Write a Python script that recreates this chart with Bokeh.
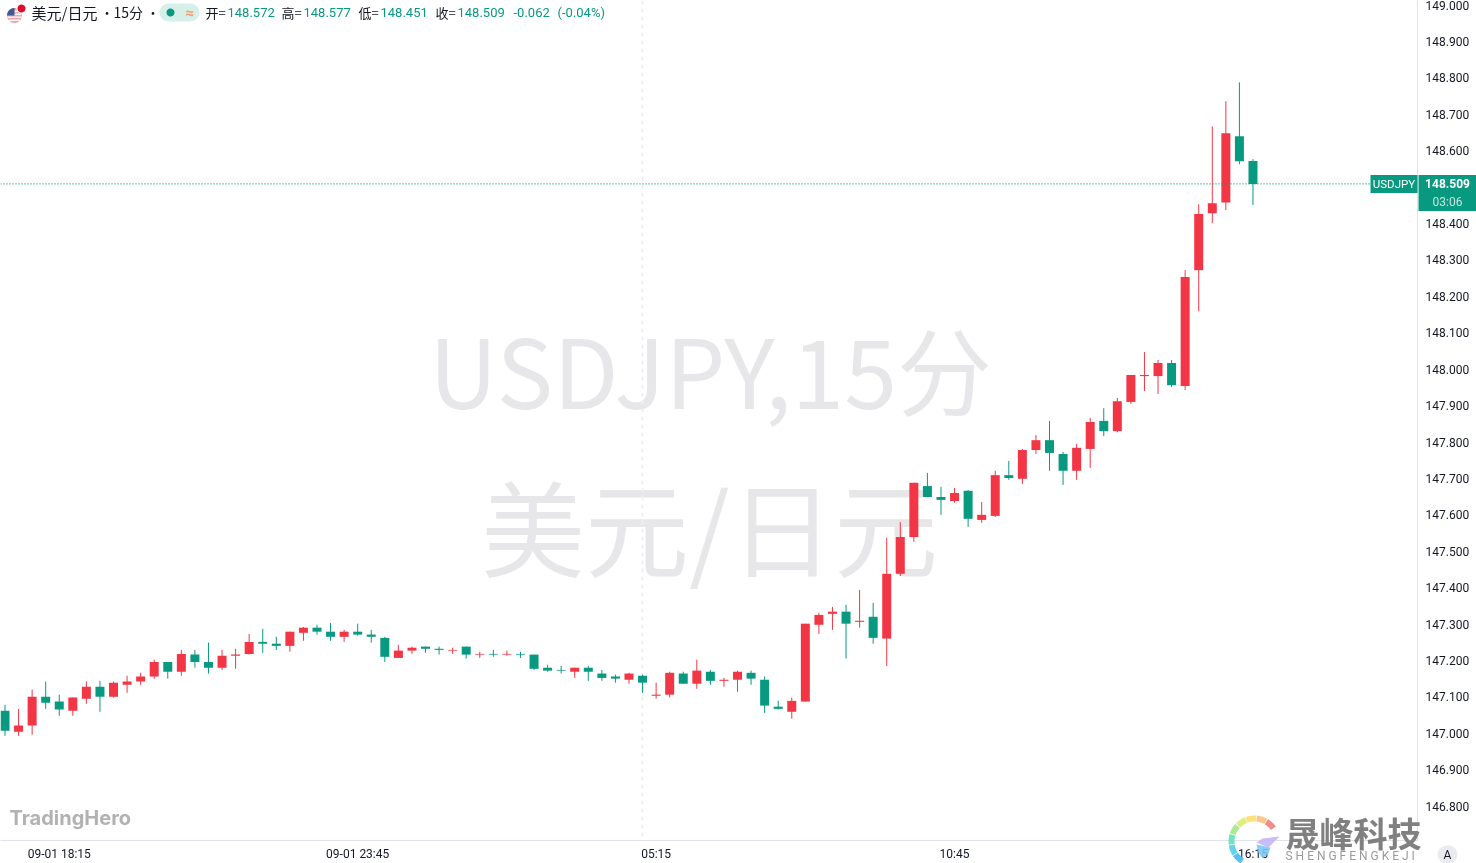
import numpy as np

from bokeh.core.properties import value
from bokeh.embed import file_html
from bokeh.models import (Column, ColumnDataSource, FixedTicker, Label,
                          LinearAxis, PrintfTickFormatter, Range1d, Span)
from bokeh.plotting import figure
from bokeh.resources import INLINE

# USDJPY 15 min
opens = [
    147.062, 147.004, 147.021, 147.100, 147.087, 147.062, 147.095, 147.128, 147.100, 147.133,
    147.142, 147.156, 147.196, 147.169, 147.216, 147.196, 147.180, 147.213, 147.218, 147.251,
    147.246, 147.240, 147.276, 147.290, 147.279, 147.265, 147.279, 147.271, 147.262, 147.207,
    147.227, 147.238, 147.232, 147.227, 147.238, 147.216, 147.218, 147.216, 147.218, 147.216,
    147.180, 147.174, 147.169, 147.180, 147.164, 147.156, 147.147, 147.158, 147.103, 147.106,
    147.164, 147.136, 147.169, 147.144, 147.147, 147.166, 147.147, 147.073, 147.059, 147.087,
    147.298, 147.328, 147.334, 147.306, 147.320, 147.260, 147.438, 147.539, 147.679, 147.649,
    147.638, 147.666, 147.586, 147.597, 147.709, 147.699, 147.778, 147.805, 147.767, 147.721,
    147.781, 147.858, 147.830, 147.910, 147.981, 147.981, 148.017, 147.954, 148.272, 148.428,
    148.458, 148.640, 148.572,
]
highs = [
    147.078, 147.067, 147.120, 147.142, 147.106, 147.098, 147.142, 147.144, 147.142, 147.158,
    147.166, 147.202, 147.196, 147.229, 147.229, 147.249, 147.229, 147.232, 147.273, 147.287,
    147.265, 147.279, 147.292, 147.298, 147.303, 147.284, 147.301, 147.284, 147.265, 147.243,
    147.238, 147.238, 147.238, 147.235, 147.238, 147.224, 147.229, 147.227, 147.224, 147.216,
    147.188, 147.185, 147.180, 147.185, 147.174, 147.161, 147.166, 147.161, 147.139, 147.169,
    147.169, 147.202, 147.174, 147.152, 147.172, 147.172, 147.156, 147.089, 147.098, 147.301,
    147.331, 147.347, 147.353, 147.394, 147.358, 147.537, 147.580, 147.688, 147.715, 147.677,
    147.674, 147.668, 147.635, 147.721, 147.748, 147.781, 147.819, 147.858, 147.773, 147.795,
    147.866, 147.893, 147.921, 147.984, 148.047, 148.025, 148.025, 148.272, 148.453, 148.667,
    148.736, 148.788, 148.577,
]
lows = [
    146.993, 146.993, 146.996, 147.067, 147.048, 147.048, 147.081, 147.059, 147.098, 147.111,
    147.133, 147.150, 147.150, 147.158, 147.180, 147.164, 147.174, 147.177, 147.216, 147.221,
    147.229, 147.224, 147.254, 147.271, 147.254, 147.251, 147.268, 147.249, 147.196, 147.207,
    147.218, 147.221, 147.216, 147.218, 147.205, 147.207, 147.210, 147.213, 147.207, 147.174,
    147.169, 147.164, 147.152, 147.144, 147.144, 147.139, 147.136, 147.111, 147.095, 147.098,
    147.136, 147.122, 147.133, 147.128, 147.114, 147.133, 147.056, 147.065, 147.040, 147.087,
    147.273, 147.284, 147.205, 147.290, 147.246, 147.185, 147.432, 147.526, 147.649, 147.600,
    147.633, 147.567, 147.578, 147.594, 147.696, 147.685, 147.767, 147.721, 147.682, 147.696,
    147.729, 147.816, 147.827, 147.904, 147.940, 147.932, 147.951, 147.943, 148.159, 148.401,
    148.437, 148.563, 148.451,
]
closes = [
    147.007, 147.021, 147.100, 147.084, 147.065, 147.098, 147.128, 147.100, 147.139, 147.142,
    147.156, 147.196, 147.169, 147.218, 147.196, 147.180, 147.213, 147.216, 147.251, 147.246,
    147.240, 147.279, 147.290, 147.279, 147.265, 147.279, 147.271, 147.265, 147.210, 147.227,
    147.235, 147.232, 147.229, 147.229, 147.216, 147.218, 147.216, 147.218, 147.216, 147.177,
    147.172, 147.172, 147.180, 147.169, 147.152, 147.150, 147.164, 147.139, 147.106, 147.166,
    147.136, 147.172, 147.144, 147.147, 147.169, 147.150, 147.076, 147.067, 147.089, 147.301,
    147.325, 147.334, 147.301, 147.309, 147.262, 147.438, 147.539, 147.688, 147.649, 147.641,
    147.660, 147.589, 147.600, 147.709, 147.701, 147.778, 147.805, 147.770, 147.721, 147.784,
    147.855, 147.830, 147.912, 147.984, 147.984, 148.017, 147.956, 148.253, 148.426, 148.456,
    148.648, 148.571, 148.509,
]

price_ticks = [146.8, 146.9, 147.0, 147.1, 147.2, 147.3, 147.4, 147.5, 147.6, 147.7, 147.8,
               147.9, 148.0, 148.1, 148.2, 148.3, 148.4, 148.6, 148.7, 148.8, 148.9, 149.0]
time_ticks = [4, 26, 48, 70, 92]
time_labels = ["09-01 18:15", "09-01 23:45", "05:15", "10:45", "16:15"]
marker_bar = 47

legend_parts = [
    (31, "美元/日元", "#131722", "15px"), (100, "•", "#131722", "13px"),
    (113, "15分", "#131722", "14px"), (146, "•", "#131722", "13px"),
    (205, "开=", "#131722", "13px"), (227, "148.572", "#089981", "13px"),
    (281, "高=", "#131722", "13px"), (303, "148.577", "#089981", "13px"),
    (358, "低=", "#131722", "13px"), (380, "148.451", "#089981", "13px"),
    (435, "收=", "#131722", "13px"), (457, "148.509", "#089981", "13px"),
    (513, "-0.062", "#089981", "13px"), (557, "(-0.04%)", "#089981", "13px"),
]

UP = "#F23645"
DOWN = "#089981"
TEXT = "#131722"
BORDER = "#e0e3eb"
SANS = "Roboto"
CJK = "Noto Sans CJK SC"
WIDTH = 1476
HEIGHT = 863
FRAME_W = 1417
FRAME_H = 841
BAR_PX = 13.565
FIRST_PX = 4.5
PRICE_PX = 364.5
PRICE_AT_0 = 149.0127
FULL_PAGE = {"position": "fixed", "left": "0", "top": "0"}

p = figure(
    width=WIDTH, height=HEIGHT,
    x_range=Range1d(-FIRST_PX / BAR_PX, (FRAME_W - FIRST_PX) / BAR_PX),
    y_range=Range1d(PRICE_AT_0 - FRAME_H / PRICE_PX, PRICE_AT_0),
    toolbar_location=None, output_backend="svg",
    x_axis_location=None, y_axis_location=None,
    min_border_left=0, min_border_top=0, min_border_right=59, min_border_bottom=22,
    styles=FULL_PAGE,
)
p.outline_line_color = None
p.grid.visible = False
p.background_fill_color = "white"

right = LinearAxis(
    ticker=FixedTicker(ticks=price_ticks),
    formatter=PrintfTickFormatter(format="%.3f"),
)
bottom = LinearAxis(
    ticker=FixedTicker(ticks=time_ticks),
    major_label_overrides=dict(zip(time_ticks, time_labels)),
)
for axis in (right, bottom):
    axis.major_tick_line_color = None
    axis.minor_tick_line_color = None
    axis.major_tick_out = 0
    axis.major_tick_in = 0
    axis.axis_line_color = BORDER
    axis.major_label_text_color = TEXT
    axis.major_label_text_font = SANS
    axis.major_label_text_font_size = "12px"
right.major_label_standoff = 8
bottom.major_label_standoff = 6
p.add_layout(right, "right")
p.add_layout(bottom, "below")

# watermarks sit under the candles
for mark_x, mark_y, mark_text, mark_size in [(710, 368, "USDJPY,15分", "95px"), (709, 525, "美元/日元", "104px")]:
    p.add_layout(Label(
        x=mark_x, y=FRAME_H - mark_y, x_units="screen", y_units="screen", text=mark_text,
        text_color="#e7e7e9", text_font=CJK, text_font_size=mark_size,
        text_align="center", text_baseline="middle", level="underlay",
    ))

# candles
x = np.arange(len(closes))
colors = [UP if c >= o else DOWN for o, c in zip(opens, closes)]
source = ColumnDataSource(dict(
    x=x, high=highs, low=lows,
    top=np.maximum(opens, closes), bottom=np.minimum(opens, closes), color=colors,
))

p.add_layout(Span(location=marker_bar, dimension="height", line_color="#eff0f6",
                  line_width=2, line_dash="4 4", level="underlay"))
p.segment("x", "high", "x", "low", source=source, line_color="color", line_width=1)
p.vbar("x", width=9 / BAR_PX, top="top", bottom="bottom", source=source,
       fill_color="color", line_color=None)
p.add_layout(Span(location=closes[-1], dimension="width", line_color=DOWN,
                  line_width=1.4, line_dash="1 2"))

# annotations get clipped to the frame, so everything that crosses it goes on a
# transparent figure laid over the chart, in page pixels
over = figure(
    width=WIDTH, height=HEIGHT,
    x_range=Range1d(0, WIDTH), y_range=Range1d(HEIGHT, 0),
    toolbar_location=None, output_backend="svg",
    x_axis_location=None, y_axis_location=None,
    min_border=0, styles=FULL_PAGE,
)
over.outline_line_color = None
over.grid.visible = False
over.background_fill_color = None
over.border_fill_color = None


def label(x_, y_, text, color=TEXT, size="13px", font=SANS, style="normal", align="left"):
    over.text(x=[x_], y=[y_], text=[text], text_color=color, text_font=value(font),
              text_font_size=size, text_font_style=style,
              text_align=align, text_baseline="middle")


def box(left, top, right_, bottom_, color, radius=0):
    over.quad(left=[left], right=[right_], top=[top], bottom=[bottom_],
              fill_color=color, line_color=None, border_radius=radius)


def poly(xs, ys, color, alpha=1.0):
    over.patch(list(xs), list(ys), fill_color=color, fill_alpha=alpha, line_color=None)


def disc(cx, cy, r, color):
    a = np.linspace(0, 2 * np.pi, 40)
    poly(cx + r * np.cos(a), cy + r * np.sin(a), color)


def ring(cx, cy, r0, r1, a0, a1, color, alpha=1.0):
    a = np.radians(np.linspace(a0, a1, 16))
    xs = np.r_[cx + r1 * np.cos(a), cx + r0 * np.cos(a[::-1])]
    ys = np.r_[cy - r1 * np.sin(a), cy - r0 * np.sin(a[::-1])]
    poly(xs, ys, color, alpha)


# last price tags
last_y = (PRICE_AT_0 - closes[-1]) * PRICE_PX
box(1370, last_y - 9, 1417, last_y + 9, DOWN)
label(1393.5, last_y, "USDJPY", color="white", size="11.5px", align="center")
box(1418, last_y - 9, 1476, last_y + 27, DOWN)
label(1447, last_y - 0.5, f"{closes[-1]:.3f}", color="white", size="12px", style="bold", align="center")
label(1447, last_y + 18, "03:06", color="#c4e6dd", size="12px", align="center")

# legend row
disc(14, 15, 7.5, "#eda6ab")
for y_s, half in [(10, 4.5), (13, 7), (16, 7), (19, 5.5)]:
    box(14 - half, y_s, 14 + half, y_s + 1.5, "#f7f7f7")
ring(14, 15, 0, 7.5, 90, 180, "#3f5a96")
disc(21, 8, 5, "white")
disc(21, 8, 4, "#d8112a")
for part_x, part_text, part_color, part_size in legend_parts:
    cjk = not part_text[0].isascii() or part_text == "15分"
    label(part_x, 11.5, part_text, color=part_color, size=part_size, font=CJK if cjk else SANS)
box(159, 3, 199, 21, "#d7efe9", radius=9)
disc(170, 12, 4, DOWN)
label(189, 12, "≈", color="#f59a6e", size="15px", style="bold", align="center")

# TradingHero mark
label(9, 817, "TradingHero", color="#b2b2b2", size="20px", font="Inter", style="bold")

# Shengfeng logo
petals = ["#f58a8a", "#fbc78a", "#f9e27a", "#dcef7c", "#a9ea92", "#74e2c2", "#63d2ea", "#58c0f0"]
for i, petal in enumerate(petals):
    ring(1254, 841, 20, 26, 35 + i * 25.6, 59 + i * 25.6, petal)
poly([1279, 1262, 1256, 1268], [836, 838, 842, 847], "#c4b5f5", 0.9)
poly([1270, 1256, 1258, 1262, 1268], [847, 844, 852, 858, 853], "#7cc8f5", 0.9)
label(1285, 832, "晟峰科技", color="#808080", size="34px", font=CJK, style="bold")
label(1285, 855.5, "S H E N G F E N G K E J I", color="#9a9a9a", size="12px")

# auto scale button
box(1437, 845, 1457, 863, "#e9ebf0", radius=9)
label(1447, 854.5, "A", size="12px", align="center")

root = Column(children=[Column(children=[p]), Column(children=[over])])
open("out.html", "w").write(file_html(root, INLINE))
